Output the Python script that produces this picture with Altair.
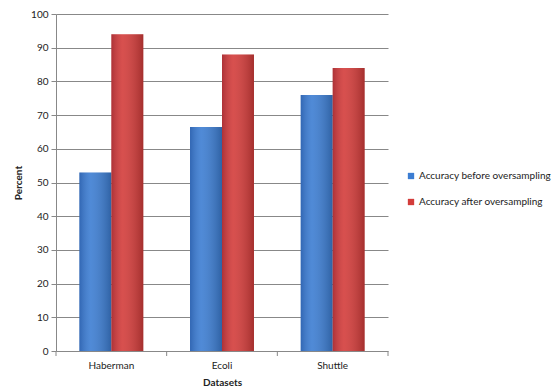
import altair as alt
import pandas as pd

datasets = ["Haberman", "Ecoli", "Shuttle"]
series = ["Accuracy before oversampling", "Accuracy after oversampling"]
before = [53, 66.5, 76]
after = [94, 88, 84]

rows = []
for i, d in enumerate(datasets):
    rows.append({"Dataset": d, "Series": series[0], "Value": before[i]})
    rows.append({"Dataset": d, "Series": series[1], "Value": after[i]})
df = pd.DataFrame(rows)
cats = pd.DataFrame({"Dataset": datasets})

FONT = "Lato"

xscale = alt.Scale(domain=datasets, paddingInner=0, paddingOuter=0)
xaxis = alt.Axis(labelAngle=0, ticks=False, domain=False, labelPadding=9,
                 labelFontSize=10, titleFontSize=10, titleFont=FONT, labelFont=FONT,
                 titleFontWeight="bold", titlePadding=7, labelColor="#222", titleColor="#222")
x = alt.X("Dataset:N", sort=datasets, title="Datasets", scale=xscale, axis=xaxis)
xo = alt.XOffset("Series:N", sort=series,
                 scale=alt.Scale(paddingInner=0, paddingOuter=0.73))
y = alt.Y("Value:Q", title="Percent",
          scale=alt.Scale(domain=[0, 100], nice=False),
          axis=alt.Axis(values=list(range(0, 101, 10)), tickSize=5, tickColor="#888",
                        domainColor="#888", gridColor="#888", gridOpacity=1,
                        labelOverlap=False, labelFlush=False,
                        labelFontSize=10, titleFontSize=10, labelFont=FONT, titleFont=FONT,
                        titleFontWeight="bold", labelPadding=3, titlePadding=7,
                        labelColor="#222", titleColor="#222"))

bars = alt.Chart(df).mark_bar().encode(
    x=x, xOffset=xo, y=y,
    color=alt.Color("Series:N", sort=series,
                    scale=alt.Scale(domain=series, range=["#3C7DD2", "#D33C3A"]),
                    legend=alt.Legend(title=None, orient="none", legendX=350, legendY=157,
                                      symbolType="square", symbolSize=40, labelFontSize=10,
                                      labelFont=FONT, rowPadding=16, labelColor="#222",
                                      labelOffset=3, symbolStrokeWidth=0, labelLimit=200))
)

shade = alt.Chart(df).mark_bar(
    color=alt.Gradient(gradient="linear", x1=0, x2=1, y1=0, y2=0,
                       stops=[alt.GradientStop(offset=0, color="rgba(0,0,40,0.18)"),
                              alt.GradientStop(offset=0.35, color="rgba(255,255,255,0.10)"),
                              alt.GradientStop(offset=1, color="rgba(0,0,0,0.22)")])
).encode(x=x, xOffset=xo, y=y)

ticks_left = alt.Chart(cats).mark_rule(color="#888").encode(
    x=alt.X("Dataset:N", sort=datasets, title="Datasets", scale=xscale, bandPosition=0, axis=xaxis),
    y=alt.value(337), y2=alt.value(342))
ticks_right = alt.Chart(cats).transform_filter(alt.datum.Dataset == datasets[-1]).mark_rule(color="#888").encode(
    x=alt.X("Dataset:N", sort=datasets, title="Datasets", scale=xscale, bandPosition=1, axis=xaxis),
    y=alt.value(337), y2=alt.value(342))

chart = alt.layer(bars, shade, ticks_left, ticks_right).properties(
    width=332, height=337,
    autosize=alt.AutoSizeParams(type="none"),
    padding={"left": 56, "top": 14, "right": 165, "bottom": 35},
    background="white"
).configure_view(stroke=None).configure_axisX(domain=False)

chart.save("out.html", embed_options={"renderer": "svg", "actions": False})
